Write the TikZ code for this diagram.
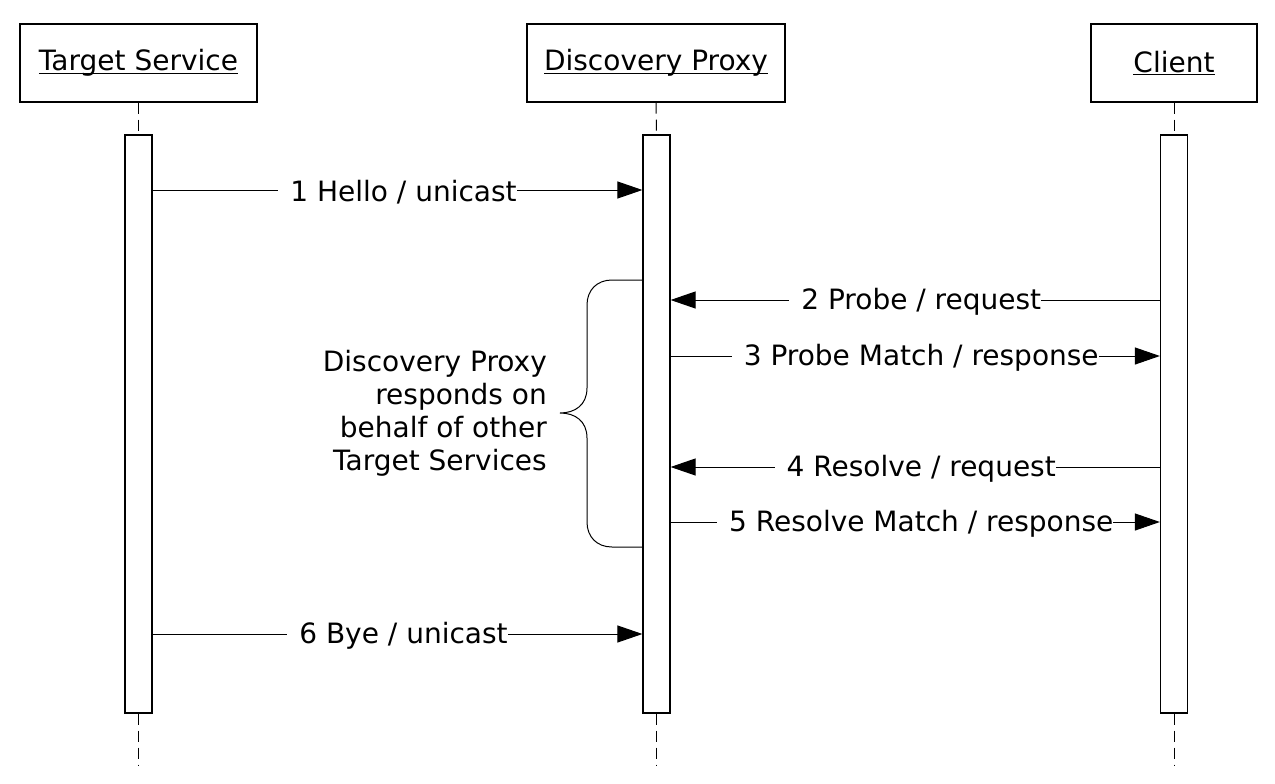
\documentclass[tikz,border=0pt]{standalone}
\usepackage{fontspec}
\setmainfont{DejaVu Sans}
\usetikzlibrary{arrows.meta}
\newcommand{\headul}[1]{\setbox0\hbox{#1}\rlap{\rule[-3pt]{\wd0}{1.2pt}}\box0}

\begin{document}
\begin{tikzpicture}[x=1pt,y=-1pt,
  font=\fontsize{28}{33}\selectfont,
  head/.style={draw,line width=1.2pt,minimum height=78pt,inner sep=0pt},
  bar/.style={draw,fill=white,line width=1.2pt,minimum width=27pt,minimum height=578pt,inner sep=0pt},
  lifeline/.style={line width=1pt,dash pattern=on 11pt off 6pt},
  msg/.style={line width=1pt,-{Triangle[length=25pt,width=17pt]}},
  lbl/.style={fill=white,inner xsep=0pt,inner ysep=3pt,yshift=-2pt,execute at begin node={\hspace*{12pt}}}]
\useasboundingbox (0,0) rectangle (1275,784);
% lifelines
\node[head,minimum width=237pt] (tshead) at (138.5,63) {\headul{Target Service}};
\node[head,minimum width=258pt] (dphead) at (656,63) {\headul{Discovery Proxy}};
\node[head,minimum width=166pt] (clhead) at (1174,63) {\headul{Client}};
\node[bar] (tsbar) at (138.5,424) {};
\node[bar] (dpbar) at (656.5,424) {};
\node[bar] (clbar) at (1174,424) {};
\coordinate (tsend) at (138.5,765);
\coordinate (dpend) at (656.5,765);
\coordinate (clend) at (1174,765);
\draw[lifeline] (tshead.south) -- (tsbar.north);
\draw[lifeline] (dphead.south) -- (dpbar.north);
\draw[lifeline] (clhead.south) -- (clbar.north);
\draw[lifeline] (tsbar.south) -- (tsend);
\draw[lifeline] (dpbar.south) -- (dpend);
\draw[lifeline] (clbar.south) -- (clend);
% messages
\coordinate (m1) at (0,190);
\coordinate (m2) at (0,300);
\coordinate (m3) at (0,356);
\coordinate (m4) at (0,467);
\coordinate (m5) at (0,522);
\coordinate (m6) at (0,634);
\draw[msg] (tsbar.east |- m1) -- node[lbl] {1 Hello / unicast} (dpbar.west |- m1);
\draw[msg] (clbar.west |- m2) -- node[lbl] {2 Probe / request} (dpbar.east |- m2);
\draw[msg] (dpbar.east |- m3) -- node[lbl] {3 Probe Match / response} (clbar.west |- m3);
\draw[msg] (clbar.west |- m4) -- node[lbl] {4 Resolve / request} (dpbar.east |- m4);
\draw[msg] (dpbar.east |- m5) -- node[lbl] {5 Resolve Match / response} (clbar.west |- m5);
\draw[msg] (tsbar.east |- m6) -- node[lbl] {6 Bye / unicast} (dpbar.west |- m6);
% brace
\coordinate (b1) at (0,280);
\coordinate (b2) at (0,547);
\draw[line width=1pt] (dpbar.west |- b1) -- (612,280) .. controls (597,280) and (587,290) .. (587,305)
  -- (587,388) .. controls (587,405) and (575,413) .. (560,413)
  .. controls (575,413) and (587,421) .. (587,438) -- (587,522)
  .. controls (587,537) and (597,547) .. (612,547) -- (dpbar.west |- b2);
\node[anchor=east,align=right,inner sep=0pt] (note) at (547,413) {Discovery Proxy\\responds on\\behalf of other\\Target Services};
\end{tikzpicture}
\end{document}
